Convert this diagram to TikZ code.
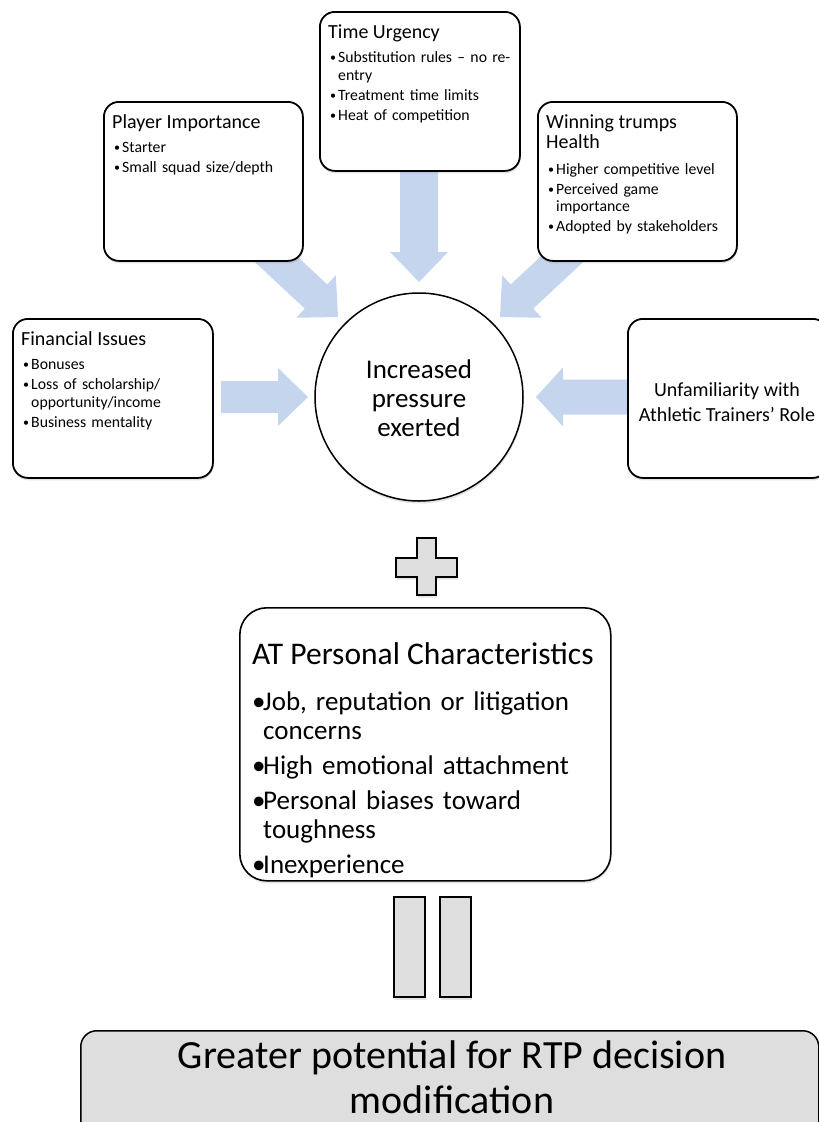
\documentclass[tikz,border=0pt]{standalone}
\usepackage{fontspec}
\setmainfont{Carlito}
\usetikzlibrary{shadows}
\definecolor{arrowblue}{RGB}{197,213,238}
\definecolor{boxgray}{RGB}{222,222,222}
\newcommand\sbul{\hangindent=8pt\hangafter=1\noindent\makebox[8pt][l]{\raisebox{0.8pt}{\fontsize{12}{12}\selectfont•}}}
\newcommand\sbi{\par\sbul}
\newcommand\bbul{\hangindent=11pt\hangafter=1\noindent\makebox[11pt][l]{•}}
\newcommand\bbi{\par\bbul}
\newcommand\blockarr[6]{%
  \begin{scope}[shift={(#1)},rotate=#2]
    \fill[arrowblue] (-#3,-#4) -- (-#6,-#4) -- (-#6,-#5) -- (0,0) -- (-#6,#5) -- (-#6,#4) -- (-#3,#4) -- cycle;
  \end{scope}}
\tikzset{
  shd/.style={drop shadow={shadow xshift=0.6pt,shadow yshift=-2.5pt,opacity=0.22}},
  fbox/.style={draw=black,line width=1.8pt,fill=white,rounded corners=15pt,inner sep=0pt,anchor=north west,
    minimum width=200pt,minimum height=159pt,shd},
  ttl/.style={anchor=base west,inner sep=0pt,align=left,font=\fontsize{20}{20.5}\selectfont},
  blt/.style={anchor=base west,inner sep=0pt,text width=195pt,align=left,
    font=\fontsize{15.75}{17.5}\selectfont,execute at begin node={\raggedright\setlength{\parskip}{2.5pt}}},
  grayshape/.style={fill=boxgray,draw=black,line width=2pt,shd},
}
\begin{document}
\begin{tikzpicture}[x=1pt,y=-1pt]
\useasboundingbox (0,0) rectangle (819,1122);
\clip (0,0) rectangle (819,1122);

% arrow tips
\coordinate (tipL) at (308,397);
\coordinate (tipR) at (536,397);
\coordinate (tipT) at (419,282);
\coordinate (tipDL) at (338,317);
\coordinate (tipDR) at (500,317);

\blockarr{tipL}{0}{87}{16}{29}{30}
\blockarr{tipR}{180}{96}{17.5}{29.5}{27}
\blockarr{tipT}{-90}{117}{19}{29}{30}
\blockarr{tipDL}{-43}{120}{16.5}{29}{30}
\blockarr{tipDR}{-137}{120}{16.5}{29}{30}

% boxes
\node[fbox] (fin) at (12,318) {};
\node[fbox,minimum width=199pt] (pla) at (103,101) {};
\node[fbox] (tim) at (319,11) {};
\node[fbox,minimum width=199pt] (win) at (537,101) {};
\node[fbox] (unf) at (627,318) {};
\node[draw=black,line width=1.5pt,fill=white,circle,minimum size=208pt,inner sep=0pt,shd] (cir) at (419,397) {};

% box texts
\node[ttl] (fint) at (21,345) {Financial Issues};
\node[blt] (finb) at (23,369.5) {\sbul Bonuses\sbi Loss of scholarship/\newline opportunity/income\sbi Business mentality};

\node[ttl] (plat) at (112,128) {Player Importance};
\node[blt] (plab) at (114,152.5) {\sbul Starter\sbi Small squad size/depth};

\node[ttl] (timt) at (328,38) {Time Urgency};
\node[blt] (timb) at (330,62.5) {\sbul Substitution rules – no re-\newline entry\sbi Treatment time limits\sbi Heat of competition};

\node[ttl] (wint) at (546,148.5) {Winning trumps\\Health};
\node[blt] (winb) at (548,174) {\sbul Higher competitive level\sbi Perceived game\newline importance\sbi Adopted by stakeholders};

\node[anchor=base,inner sep=0pt,align=center,font=\fontsize{20}{25}\selectfont] (unft) at (727,421) {Unfamiliarity with\\Athletic Trainers’ Role};

\node[anchor=base,inner sep=0pt,align=center,font=\fontsize{27}{29}\selectfont] (cirt) at (419,436) {Increased\\pressure\\exerted};

% plus sign
\draw[grayshape] (417,538) -- (436,538) -- (436,558) -- (457,558) -- (457,577) -- (436,577) -- (436,595)
  -- (417,595) -- (417,577) -- (396,577) -- (396,558) -- (417,558) -- cycle;

% AT box
\node[draw=black,line width=1.6pt,fill=white,rounded corners=27pt,inner sep=0pt,anchor=north west,
  minimum width=371pt,minimum height=273pt,shd] (at) at (239,607) {};
\node[anchor=base west,inner sep=0pt,font=\fontsize{31.5}{34}\selectfont] (att) at (252,664.5) {AT Personal Characteristics};
\node[anchor=base west,inner sep=0pt,text width=360pt,align=left,font=\fontsize{27}{29}\selectfont,
  execute at begin node={\raggedright\setlength{\parskip}{6.3pt}}] (atb) at (252,710)
  {\bbul Job, reputation or litigation\newline concerns\bbi High emotional attachment\bbi Personal biases toward\newline toughness\bbi Inexperience};

% equals sign
\draw[grayshape] (394,897) rectangle (425,997);
\draw[grayshape] (440,897) rectangle (471,997);

% bottom box
\node[draw=black,line width=1.5pt,fill=boxgray,rounded corners=16pt,inner sep=0pt,anchor=north west,
  minimum width=738pt,minimum height=120pt,shd] (res) at (80,1030) {};
\node[anchor=base,inner sep=0pt,align=center,font=\fontsize{40}{45}\selectfont] (rest) at (452,1113)
  {Greater potential for RTP decision\\modification};
\end{tikzpicture}
\end{document}
